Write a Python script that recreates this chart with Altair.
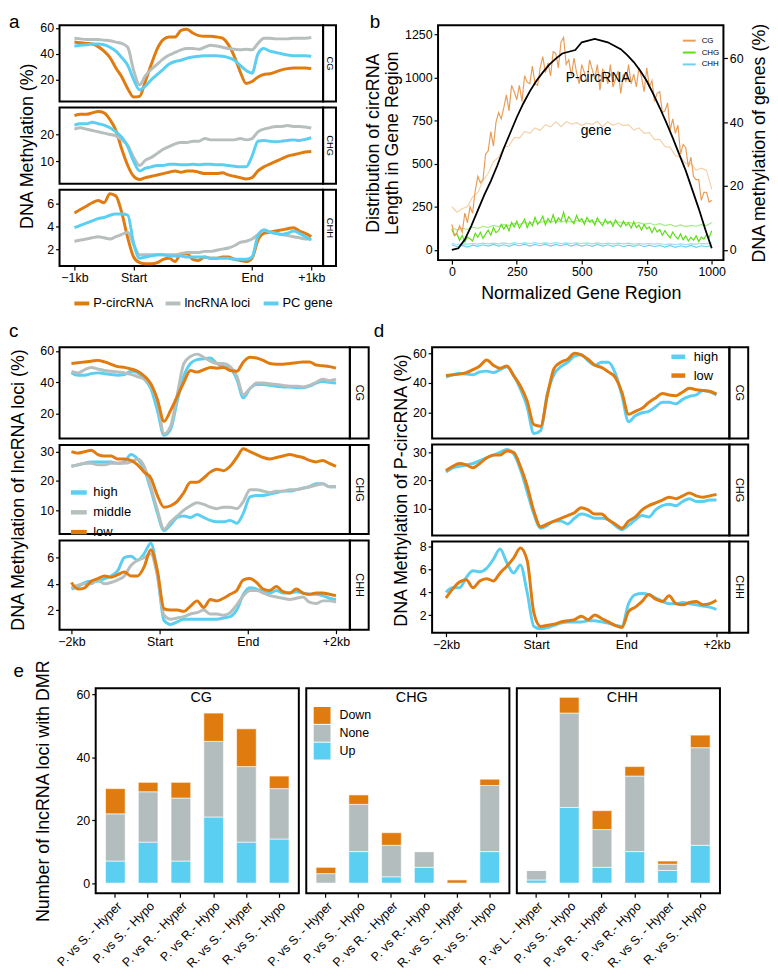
import altair as alt
import pandas as pd

FONT = "Liberation Sans"
ORANGE = "#E07B10"
GRAY = "#B7BEBE"
CYAN = "#5BCFF1"
BAR_GRAY = "#B3BDBD"

# ---------------- panel a ----------------
A_X = [i * 2.5 for i in range(41)]
A_XTICKS = [0, 25, 75, 100]
A_XLABELS = ["−1kb", "Start", "End", "+1kb"]
A_NAMES = ["P-circRNA", "lncRNA loci", "PC gene"]
A_CG_P = [49, 48.5, 48, 47.5, 45.5, 42, 37, 29, 22, 13, 6.5, 7, 19, 32, 44, 51, 53, 53, 58, 59, 56, 54, 53.5, 53.5, 53, 52, 47, 38, 26, 17, 18.5, 22, 24, 24.5, 26, 27.5, 28.5, 29, 29, 29, 28.5]
A_CG_L = [52, 51.5, 51, 51, 51, 50.5, 50, 49, 48, 45, 27, 16, 23, 28, 32, 36, 39, 41, 43, 44, 44, 43.5, 45, 46.5, 46, 45, 44, 43.5, 43, 43.5, 43, 48, 52, 52, 51.5, 51.5, 51.5, 52, 52, 52, 52.5]
A_CG_C = [46, 46.5, 47, 47.5, 47.5, 47, 45, 42, 37, 31, 20, 12, 15, 20, 24, 28, 32, 34, 35, 36.5, 37.5, 38, 38.5, 38.5, 38.5, 38, 37, 35, 31, 27, 25, 40, 44, 42, 41, 40, 39, 38.5, 38.5, 38.5, 38]
A_CHG_P = [27, 27.5, 27.5, 28, 28.5, 28, 25.5, 21.5, 14.5, 8.5, 4.5, 3.3, 4, 4.5, 5, 5.5, 6, 6.5, 6, 6.5, 6.5, 6, 5.5, 5.5, 5.5, 5.8, 5, 4.5, 4, 3.5, 4, 6.5, 8, 9, 10, 11, 12, 12.5, 13, 13.5, 13.7]
A_CHG_L = [22, 22.5, 22, 21.5, 21, 20.5, 20, 19.5, 18, 16, 11.5, 8.5, 10.5, 11.5, 13, 14.5, 15.5, 16.5, 17, 17, 17.5, 17.5, 18.5, 18, 18, 18, 18, 18, 18.5, 18, 18.5, 21, 22, 22.5, 23, 23, 23.3, 23, 23, 22.8, 22.4]
A_CHG_C = [23.5, 24, 24, 24.5, 24, 23.5, 22.5, 21, 19, 15.5, 10, 6.5, 7.5, 8, 8.5, 8.5, 9, 9, 8.8, 8.8, 9, 8.8, 9, 9, 8.8, 8.8, 8.5, 8.2, 8, 8, 12, 17.5, 17.8, 17.5, 17.3, 17.5, 17.8, 18, 17.8, 18.2, 18.8]
A_CHH_P = [5.2, 5.5, 5.8, 6.1, 6.3, 6.1, 6.9, 6.7, 5.2, 3.0, 1.3, 0.8, 0.7, 0.7, 0.8, 1.1, 1.2, 0.9, 1.6, 1.6, 1.1, 1.0, 1.3, 1.2, 1.2, 1.3, 1.3, 1.1, 1.0, 0.9, 1.2, 2.8, 3.4, 3.5, 3.6, 3.7, 3.8, 3.9, 3.6, 3.4, 3.1]
A_CHH_L = [2.7, 2.8, 2.9, 3.0, 3.1, 3.0, 2.9, 3.1, 3.3, 3.5, 2.4, 1.5, 1.5, 1.5, 1.5, 1.5, 1.5, 1.5, 1.6, 1.7, 1.7, 1.7, 1.8, 1.8, 1.9, 2.0, 2.1, 2.3, 2.6, 2.7, 2.9, 3.3, 3.7, 3.5, 3.4, 3.3, 3.2, 3.1, 3.0, 2.9, 2.9]
A_CHH_C = [3.9, 4.1, 4.3, 4.5, 4.7, 4.8, 5.0, 5.1, 5.1, 5.0, 2.5, 1.2, 1.3, 1.4, 1.5, 1.5, 1.4, 1.4, 1.4, 1.3, 1.3, 1.3, 1.3, 1.2, 1.2, 1.2, 1.2, 1.1, 1.1, 1.1, 1.3, 3.2, 3.7, 3.5, 3.4, 3.3, 3.4, 3.6, 3.4, 3.1, 2.8]

# ---------------- panel b ----------------
B_X10 = list(range(0, 1001, 10))
B_X20 = list(range(0, 1001, 20))
B_X25 = list(range(0, 1001, 25))
B_XTICKS = [0, 250, 500, 750, 1000]
B_NAMES = ["CG", "CHG", "CHH", "CG gene", "CHG gene", "CHH gene"]
B_COLORS = ["#E99E58", "#5FDC18", "#6FD0EE", "#F4D2AC", "#A6EC86", "#9BDDF2"]
B_CG_CIRC = [8, 4.5, 5.5, 7.5, 5.5, 11.5, 8.5, 13.5, 11.5, 18.5,
             23, 21, 22, 30, 31, 37, 32.5, 40, 43, 41,
             44.5, 48.5, 43.5, 51.5, 49.5, 47, 51.5, 46.5, 54.5, 52.5,
             52, 57.5, 52, 51.5, 57, 60.5, 55.5, 58.5, 54.5, 62,
             61.5, 57, 65, 66.5, 58, 59.5, 54.5, 60, 55.5, 52,
             58, 55.5, 52.5, 59.5, 56.5, 53.5, 58, 50, 56.5, 55.5,
             52, 58, 51, 53.5, 56, 49, 55, 52.5, 58, 52,
             55, 51, 57, 54, 49.5, 57, 51, 53, 46.5, 49,
             49.5, 43, 43.5, 46, 37.5, 41, 36.5, 39, 30, 33,
             32, 26, 29, 23, 22, 22, 15.5, 18, 18, 15,
             15.5]
B_CG_GENE = [13.5, 11.8, 12.9, 13.6, 16.6, 18.0, 21.7, 24.0, 27.6, 29.0,
             32.2, 32.5, 35.2, 35.0, 37.1, 36.5, 38.2, 37.4, 39.2, 38.5,
             40.1, 38.6, 40.2, 39.4, 39.8, 38.9, 39.7, 39.3, 40.2, 38.6,
             40.1, 39.0, 39.7, 38.9, 39.2, 37.5, 38.2, 36.5, 36.7, 34.5,
             34.6, 32.4, 32.1, 29.5, 29.1, 27.0, 27.1, 25.0, 25.6, 24.9, 19]
B_CHG_CIRC = [6.5, 4.5, 5.0, 3.0, 4.5, 2.5, 4.0, 3.5, 2.8, 5.2,
              4.0, 5.5, 3.6, 5.0, 6.2, 4.6, 7.0, 5.4, 6.0, 8.0,
              6.5, 7.8, 6.0, 8.6, 7.2, 9.0, 6.8, 8.2, 9.6, 7.0,
              8.8, 7.5, 10.2, 8.0, 9.0, 10.6, 7.8, 9.8, 8.6, 11.0,
              8.4, 10.0, 9.0, 11.8, 8.6, 10.4, 9.2, 8.2, 10.8, 9.0,
              9.8, 8.0, 10.2, 8.8, 9.4, 7.8, 10.0, 8.6, 7.6, 9.6,
              8.2, 9.0, 7.4, 9.4, 8.0, 7.2, 9.0, 7.6, 8.4, 6.8,
              8.8, 7.0, 7.8, 6.2, 8.0, 6.6, 7.2, 5.4, 7.0, 5.6,
              6.4, 4.6, 6.0, 4.8, 3.8, 5.6, 4.2, 3.4, 5.0, 3.2,
              4.4, 2.8, 4.0, 3.0, 4.4, 2.6, 4.0, 3.4, 4.8, 3.8,
              6.0]
B_CHG_GENE = [7.0, 6.2, 6.8, 6.4, 7.1, 6.7, 7.4, 7.0, 7.7, 7.3,
              8.0, 7.6, 8.3, 7.9, 8.6, 8.2, 8.9, 8.5, 9.1, 8.6,
              9.3, 8.7, 9.2, 8.7, 9.2, 8.8, 9.1, 8.6, 9.0, 8.5,
              8.9, 8.4, 8.8, 8.3, 8.7, 8.2, 8.6, 8.0, 8.4, 7.8,
              8.2, 7.6, 8.0, 7.4, 7.8, 7.3, 7.7, 7.4, 7.9, 7.6, 8.6]
B_CHH_CIRC = [1.6, 1.0, 1.4, 0.9, 1.5, 1.1, 1.6, 1.2, 1.7, 1.2,
              1.6, 1.1, 1.7, 1.3, 1.8, 1.2, 1.7, 1.3, 1.8, 1.2,
              1.7, 1.3, 1.8, 1.2, 1.7, 1.2, 1.6, 1.1, 1.7, 1.2,
              1.6, 1.1, 1.6, 1.0, 1.5, 1.1, 1.6, 1.0, 1.5, 1.0,
              1.4, 0.9, 1.4, 0.8, 1.3, 0.9, 1.4, 0.8, 1.3, 1.0, 1.5]
B_CHH_GENE = [2.0, 1.7, 1.9, 1.8, 2.0, 1.8, 2.1, 1.9, 2.1, 1.9,
              2.2, 1.9, 2.2, 2.0, 2.2, 2.0, 2.3, 2.0, 2.2, 2.0,
              2.3, 2.0, 2.2, 2.0, 2.2, 2.0, 2.2, 1.9, 2.2, 1.9,
              2.1, 1.9, 2.1, 1.9, 2.1, 1.8, 2.0, 1.8, 2.0, 1.8,
              2.0, 1.7, 1.9, 1.7, 1.9, 1.7, 1.9, 1.8, 2.0, 1.9, 2.3]
B_DIST = [0, 10, 60, 140, 230, 320, 400, 490, 590, 680,
          770, 850, 920, 980, 1030, 1075, 1110, 1140, 1150, 1160,
          1205, 1215, 1225, 1215, 1205, 1185, 1165, 1130, 1090, 1040,
          980, 905, 825, 740, 650, 555, 460, 350, 240, 120, 10]
B_LABELS = ["P-circRNA", "gene"]
B_LABEL_X = [563, 555]
B_LABEL_Y = [1000, 690]

# ---------------- panels c, d ----------------
CD_X = [i * 1.5 for i in range(41)]
CD_XTICKS = [0, 20, 40, 60]
CD_XLABELS = ["−2kb", "Start", "End", "+2kb"]
C_NAMES = ["high", "middle", "low"]
C_CG_H = [46, 44.5, 44.5, 45.5, 46, 45.5, 45, 44.5, 45, 47, 46, 42, 36, 22, 6, 10, 28, 44, 52, 54.5, 55, 55.5, 52, 50, 49, 42, 30, 36, 38.5, 38.5, 38, 37.5, 37, 37, 36.5, 36.5, 37.5, 39.5, 40.5, 40, 39.5]
C_CG_M = [47, 46, 48, 49.5, 48.5, 47.5, 47, 46.5, 46, 45, 43.5, 42, 38, 28, 7, 12, 32, 52, 56.5, 58, 56, 53.5, 52, 52, 50, 44, 32, 36, 39.5, 39.5, 39, 38.5, 38, 37.5, 37.5, 37, 38, 40, 42, 41, 42]
C_CG_L = [52, 52.5, 53, 53.5, 54, 53, 51.5, 50, 49.5, 48.5, 47, 44, 39, 29, 15, 22, 31, 40, 47.5, 46.5, 48, 49.5, 49, 49.5, 47.5, 47, 53, 56, 55.5, 54, 52, 51.5, 51.5, 52, 52.5, 53, 53, 51, 50.5, 50, 49]
C_CHG_H = [25, 25.5, 26, 26.5, 26.5, 26.5, 26.5, 26, 26.5, 29, 27.5, 24, 17, 9, 3, 5, 7.5, 8, 7.5, 8.5, 7.5, 6.5, 6, 6, 6.5, 5.5, 9, 14.5, 15, 15, 15.5, 16, 16.5, 16.5, 17, 17.5, 18, 19, 19, 18, 18]
C_CHG_M = [25, 25.5, 26, 26, 25.5, 25.5, 26, 26, 26, 26.5, 27.5, 25, 18, 10, 3.5, 6, 8, 10, 11.5, 12.5, 12, 11, 10.5, 11, 11, 10.5, 13, 17, 17, 16.5, 16, 16.5, 16.5, 17, 17, 17.5, 18, 18.5, 19, 18, 18]
C_CHG_L = [30, 29.5, 30, 30.5, 29, 28.5, 28.5, 27.5, 27.5, 27, 25.5, 23, 21, 15, 11, 11.5, 13, 16, 19.5, 19.5, 21, 23, 24, 23.5, 25, 28, 31, 30, 29, 28, 27.5, 28, 28.5, 29, 28.5, 28, 27, 26.5, 27, 26, 25]
C_CHH_H = [3.6, 3.8, 4.1, 4.2, 4.2, 4.4, 4.6, 5.0, 6.0, 6.1, 5.8, 6.3, 7.1, 4.8, 1.2, 0.9, 1.1, 1.3, 1.3, 1.3, 1.3, 1.3, 1.3, 1.4, 1.5, 2.0, 3.2, 3.7, 3.6, 3.4, 3.3, 3.5, 3.3, 3.3, 3.4, 3.3, 3.2, 3.2, 3.1, 2.9, 2.8]
C_CHH_M = [3.7, 3.9, 4.0, 4.0, 4.3, 4.0, 4.1, 4.3, 4.6, 5.4, 5.8, 6.0, 6.3, 4.6, 1.6, 1.3, 1.4, 1.5, 1.7, 1.8, 2.0, 1.7, 1.7, 1.6, 1.8, 2.4, 3.1, 3.5, 3.5, 3.3, 3.1, 3.0, 2.9, 2.8, 2.9, 3.0, 2.6, 2.5, 2.7, 2.7, 2.6]
C_CHH_L = [4.1, 3.6, 3.7, 4.2, 4.4, 4.6, 4.5, 4.7, 4.9, 4.6, 4.6, 5.3, 6.6, 5.0, 2.1, 2.0, 2.0, 1.9, 2.3, 2.7, 2.2, 2.8, 2.7, 2.9, 3.2, 3.5, 4.3, 4.4, 4.1, 3.6, 3.5, 3.8, 3.4, 3.3, 3.6, 3.3, 3.2, 3.3, 3.3, 3.2, 3.1]
D_NAMES = ["high", "low"]
D_CG_H = [44, 45.5, 46.5, 46, 45.5, 47.5, 48, 47, 49, 51, 45, 36, 24, 6, 8, 33, 46, 51, 54, 58, 59, 55, 52, 54, 54, 47, 32, 14, 18, 20, 21, 24, 27, 27, 26, 29, 31, 32, 35, 34, 32]
D_CG_L = [45, 45.5, 46, 47, 49, 51.5, 55.5, 52, 50, 51.5, 45, 38, 28, 12, 11, 32, 50, 54, 56, 60, 59, 56, 52, 50.5, 47.5, 44, 34, 19, 21, 23, 27, 30, 33, 32, 31.5, 34, 36.5, 35.5, 35, 34.5, 32.5]
D_CHG_H = [23, 24.5, 25, 25.5, 26, 27, 28, 29, 30, 31, 29.5, 24, 16, 8, 3, 4, 5.5, 5.5, 4.5, 6.5, 8, 7.5, 6.5, 6.5, 6, 4, 2.5, 4, 6, 7.5, 7, 9.5, 11, 11.5, 11, 12.5, 13.5, 12.5, 12.5, 13, 13]
D_CHG_L = [23.5, 25, 26, 25.5, 24.5, 26, 28, 29, 29, 30.5, 30, 25, 18, 9, 3.5, 4.5, 5.5, 6.5, 7.5, 8.5, 10.3, 9.5, 8, 8, 6, 4.5, 3, 5.5, 7, 9.5, 11, 12, 13, 14, 13.5, 14.5, 15.5, 14.5, 14, 14.5, 15]
D_CHH_H = [4.0, 4.4, 4.4, 5.3, 5.9, 5.8, 6.1, 6.9, 7.8, 6.6, 5.7, 6.4, 4.0, 1.0, 0.8, 0.9, 1.1, 1.3, 1.4, 1.4, 1.4, 1.5, 1.5, 1.4, 1.3, 1.1, 1.0, 3.0, 3.8, 3.9, 3.8, 3.5, 3.2, 3.0, 3.0, 3.1, 3.0, 2.9, 2.8, 2.7, 2.5]
D_CHH_L = [3.5, 4.3, 4.9, 5.1, 4.4, 5.0, 5.2, 5.0, 5.7, 6.3, 7.0, 7.9, 6.8, 2.2, 1.0, 1.1, 1.2, 1.4, 1.5, 1.6, 1.9, 1.6, 2.0, 1.7, 1.4, 1.1, 0.9, 2.3, 2.7, 3.2, 3.8, 3.4, 3.2, 3.7, 3.0, 2.9, 3.1, 3.2, 2.9, 3.0, 3.3]

# ---------------- panel e ----------------
E_CATS_CG = ["P. vs S. - Hyper", "P. vs S. - Hypo", "P. vs R. - Hyper", "P. vs R.- Hypo", "R. vs S. - Hyper", "R. vs S. - Hypo"]
E_CATS_CHG = ["P. vs S. - Hyper", "P. vs S. - Hypo", "P. vs R. - Hyper", "P. vs R.- Hypo", "R. vs S. - Hyper", "R. vs S. - Hypo"]
E_CATS_CHH = ["P. vs L. - Hyper", "P. vs S. - Hypo", "P. vs R. - Hyper", "P. vs R.- Hypo", "R. vs S. - Hyper", "R. vs S. - Hypo"]
E_TYPES = ["Down", "None", "Up"]
E_CG_UP = [7, 13, 7, 21, 13, 14]
E_CG_NONE = [15, 16, 20, 24, 24, 16]
E_CG_DOWN = [8, 3, 5, 9, 12, 4]
E_CHG_UP = [0, 10, 2, 5, 0, 10]
E_CHG_NONE = [3, 15, 10, 5, 0, 21]
E_CHG_DOWN = [2, 3, 4, 0, 1, 2]
E_CHH_UP = [1, 24, 5, 10, 4, 12]
E_CHH_NONE = [3, 30, 12, 24, 2, 31]
E_CHH_DOWN = [0, 5, 6, 3, 1, 4]


def long_df(xs, series):
    rows = []
    for name, vals in series:
        for x, v in zip(xs, vals):
            rows.append({"x": x, "v": v, "s": name})
    return pd.DataFrame(rows)


def label_expr(values, labels):
    expr = "''"
    for v, l in zip(reversed(values), reversed(labels)):
        expr = f"datum.value == {v} ? '{l}' : ({expr})"
    return expr


def spacer(w, h):
    return alt.Chart(pd.DataFrame({"t": [""]})).mark_text().encode(text="t:N").properties(
        width=w, height=h, view=alt.ViewBackground(stroke="transparent"))


def strip(label, w, h, fs):
    return alt.Chart(pd.DataFrame({"t": [label]})).mark_text(
        angle=90, fontSize=fs, font=FONT, color="black").encode(
        text="t:N", x=alt.value(w / 2), y=alt.value(h / 2)).properties(width=w, height=h)


def letter(ch, x, y):
    return alt.Chart(pd.DataFrame({"t": [ch]})).mark_text(
        align="left", baseline="alphabetic", fontSize=19, font=FONT, color="black").encode(
        text="t:N", x=alt.value(x), y=alt.value(y))


def ind(ch):
    return ch.resolve_scale(color="independent").resolve_legend(color="independent")


def profile_row(xs, series, names, colors, xdom, ydom, yticks, w, h, strip_label, strip_w, strip_fs,
                xticks=None, xlabels=None, ytitle=None, ytitle_pad=3, legend=None, extras=()):
    df = long_df(xs, series)
    if xticks is None:
        xaxis = None
    else:
        xaxis = alt.Axis(values=xticks, labelExpr=label_expr(xticks, xlabels), title=None)
    if ytitle:
        yaxis = alt.Axis(values=yticks, title=ytitle, titlePadding=ytitle_pad)
    else:
        yaxis = alt.Axis(values=yticks, title=None)
    lines = alt.Chart(df).mark_line(strokeWidth=3, clip=True, interpolate="monotone").encode(
        x=alt.X("x:Q", scale=alt.Scale(domain=xdom, nice=False, zero=False), axis=xaxis),
        y=alt.Y("v:Q", scale=alt.Scale(domain=ydom, nice=False, zero=False), axis=yaxis),
        color=alt.Color("s:N", scale=alt.Scale(domain=names, range=colors), legend=legend),
    )
    if extras:
        main = alt.layer(lines, *extras).properties(width=w, height=h)
    else:
        main = lines.properties(width=w, height=h)
    return [main, strip(strip_label, strip_w, h, strip_fs)]


def grid(rows, row_gap):
    units = []
    for r in rows:
        units.extend(r)
    return ind(alt.concat(*units, columns=2, spacing=alt.RowColnumber(row=row_gap, column=0), bounds="flush"))


# ---------- panel a ----------
A_COLORS = [ORANGE, GRAY, CYAN]
A_XDOM = [-6.3, 105]
a_legend = alt.Legend(orient="none", legendX=13, legendY=105, direction="horizontal", title=None,
                      symbolType="stroke", symbolStrokeWidth=4, symbolSize=225, labelFontSize=13,
                      labelOffset=2, columnPadding=4, padding=0)
a_cg = profile_row(A_X, [("P-circRNA", A_CG_P), ("lncRNA loci", A_CG_L), ("PC gene", A_CG_C)],
                   A_NAMES, A_COLORS, A_XDOM, [3, 62], [20, 40, 60], 266, 77, "CG", 13, 9.5,
                   extras=[letter("a", -51, 3)])
a_chg = profile_row(A_X, [("P-circRNA", A_CHG_P), ("lncRNA loci", A_CHG_L), ("PC gene", A_CHG_C)],
                    A_NAMES, A_COLORS, A_XDOM, [1.7, 30], [10, 20], 266, 77, "CHG", 13, 9.5,
                    ytitle="DNA Methylation (%)", ytitle_pad=3)
a_chh = profile_row(A_X, [("P-circRNA", A_CHH_P), ("lncRNA loci", A_CHH_L), ("PC gene", A_CHH_C)],
                    A_NAMES, A_COLORS, A_XDOM, [0.5, 7.25], [2, 4, 6], 266, 77, "CHH", 13, 9.5,
                    xticks=A_XTICKS, xlabels=A_XLABELS, legend=a_legend)
panel_a = grid([a_cg, a_chg, a_chh], 6)

# ---------- panel b ----------
b_meth_df = pd.concat([
    long_df(B_X20, [("CG gene", B_CG_GENE), ("CHG gene", B_CHG_GENE), ("CHH gene", B_CHH_GENE)]),
    long_df(B_X20, [("CHH", B_CHH_CIRC)]),
    long_df(B_X10, [("CHG", B_CHG_CIRC), ("CG", B_CG_CIRC)]),
], ignore_index=True)
b_dist_df = pd.DataFrame({"x": B_X25, "v": B_DIST})
b_lab_df = pd.DataFrame({"x": B_LABEL_X, "v": B_LABEL_Y, "t": B_LABELS})
bx_scale = alt.Scale(domain=[-53, 1045], nice=False, zero=False)
bx_axis = alt.Axis(values=B_XTICKS, format="d", title="Normalized Gene Region", titlePadding=6)
bl_scale = alt.Scale(domain=[-59, 1303.5], nice=False, zero=False)
b_legend = alt.Legend(values=["CG", "CHG", "CHH"], orient="none", legendX=246, legendY=8, title=None,
                      symbolType="stroke", symbolSize=169, symbolStrokeWidth=2, labelFontSize=8,
                      labelOffset=5, rowPadding=-1, padding=0)
b_meth = alt.Chart(b_meth_df).mark_line(strokeWidth=1.2, clip=True).encode(
    x=alt.X("x:Q", scale=bx_scale, axis=bx_axis),
    y=alt.Y("v:Q", scale=alt.Scale(domain=[-3.2, 70.3], nice=False, zero=False),
            axis=alt.Axis(orient="right", values=[0, 20, 40, 60], title="DNA methylation of genes (%)",
                          titleAngle=270, titleBaseline="top", titlePadding=8)),
    color=alt.Color("s:N", scale=alt.Scale(domain=B_NAMES, range=B_COLORS), legend=b_legend),
)
b_dist = alt.Chart(b_dist_df).mark_line(strokeWidth=1.8, color="black", clip=True).encode(
    x=alt.X("x:Q", scale=bx_scale, axis=bx_axis),
    y=alt.Y("v:Q", scale=bl_scale,
            axis=alt.Axis(orient="left", values=[0, 250, 500, 750, 1000, 1250], format="d",
                          title=["Distribution of circRNA", "Length  in Gene Region"],
                          titlePadding=3, titleLineHeight=19)),
)
b_text = alt.Chart(b_lab_df).mark_text(fontSize=14, font=FONT, color="black").encode(
    x=alt.X("x:Q", scale=bx_scale, axis=bx_axis),
    y=alt.Y("v:Q", scale=bl_scale, axis=None),
    text="t:N",
)
panel_b = alt.layer(b_meth, b_dist, b_text, letter("b", -69, 3)).resolve_scale(
    y="independent", color="independent").resolve_legend(color="independent").properties(
    width=288, height=237)

row1 = ind(alt.hconcat(panel_a, panel_b, spacing=27))

# ---------- panel c ----------
C_COLORS = [CYAN, GRAY, ORANGE]
C_XDOM = [-2.7, 63.15]
c_legend = alt.Legend(orient="none", legendX=9, legendY=37.5, title=None, symbolType="stroke",
                      symbolStrokeWidth=4.5, symbolSize=256, labelFontSize=13, labelOffset=4,
                      rowPadding=-5, padding=0)
c_cg = profile_row(CD_X, [("high", C_CG_H), ("middle", C_CG_M), ("low", C_CG_L)], C_NAMES, C_COLORS,
                   C_XDOM, [4, 62.35], [20, 40, 60], 293, 92, "CG", 19, 11, extras=[letter("c", -51, -10)])
c_chg = profile_row(CD_X, [("high", C_CHG_H), ("middle", C_CHG_M), ("low", C_CHG_L)], C_NAMES, C_COLORS,
                    C_XDOM, [1.8, 32.3], [10, 20, 30], 293, 90, "CHG", 19, 11,
                    ytitle="DNA Methylation of lncRNA loci (%)", ytitle_pad=12, legend=c_legend)
c_chh = profile_row(CD_X, [("high", C_CHH_H), ("middle", C_CHH_M), ("low", C_CHH_L)], C_NAMES, C_COLORS,
                    C_XDOM, [0.5, 7.3], [2, 4, 6], 293, 90, "CHH", 19, 11,
                    xticks=CD_XTICKS, xlabels=CD_XLABELS)
panel_c = grid([c_cg, c_chg, c_chh], 6.5)

# ---------- panel d ----------
D_COLORS = [CYAN, ORANGE]
D_XDOM = [-3.08, 62.86]
d_legend = alt.Legend(orient="none", legendX=239, legendY=0, title=None, symbolType="stroke",
                      symbolStrokeWidth=4.5, symbolSize=196, labelFontSize=13, labelOffset=6,
                      rowPadding=-5.5, padding=0)
d_cg = profile_row(CD_X, [("high", D_CG_H), ("low", D_CG_L)], D_NAMES, D_COLORS,
                   D_XDOM, [2.7, 64], [20, 40, 60], 300, 92, "CG", 19, 11, legend=d_legend,
                   extras=[letter("d", -59, -10)])
d_chg = profile_row(CD_X, [("high", D_CHG_H), ("low", D_CHG_L)], D_NAMES, D_COLORS,
                    D_XDOM, [0.35, 32.8], [10, 20, 30], 300, 92, "CHG", 19, 11,
                    ytitle="DNA Methylation of P-circRNA (%)", ytitle_pad=2)
d_chh = profile_row(CD_X, [("high", D_CHH_H), ("low", D_CHH_L)], D_NAMES, D_COLORS,
                    D_XDOM, [0.45, 8.46], [2, 4, 6, 8], 300, 92, "CHH", 19, 11,
                    xticks=CD_XTICKS, xlabels=CD_XLABELS)
panel_d = grid([d_cg, d_chg, d_chh], 6)

row2 = ind(alt.hconcat(panel_c, panel_d, spacing=3))


# ---------- panel e ----------
def bar_panel(cats, up, none, down, title, w, h, show_y, legend=None, extras=()):
    rows = []
    for c, u, n, d in zip(cats, up, none, down):
        rows.append({"cat": c, "type": "Up", "v": u, "ord": 0})
        rows.append({"cat": c, "type": "None", "v": n, "ord": 1})
        rows.append({"cat": c, "type": "Down", "v": d, "ord": 2})
    df = pd.DataFrame(rows)
    if show_y:
        yaxis = alt.Axis(values=[0, 20, 40, 60], title="Number of lncRNA loci with DMR", titlePadding=24)
    else:
        yaxis = None
    bars = alt.Chart(df).mark_bar(stroke="white", strokeWidth=0.6).encode(
        x=alt.X("cat:N", sort=cats, scale=alt.Scale(paddingInner=0.4, paddingOuter=0.3),
                axis=alt.Axis(labelAngle=315, title=None, labelFontSize=12.5)),
        y=alt.Y("v:Q", stack="zero", scale=alt.Scale(domain=[-3.25, 61.9], nice=False, zero=False), axis=yaxis),
        color=alt.Color("type:N", scale=alt.Scale(domain=E_TYPES, range=[ORANGE, BAR_GRAY, CYAN]), legend=legend),
        order=alt.Order("ord:Q"),
    )
    ttl = alt.Chart(pd.DataFrame({"t": [title]})).mark_text(fontSize=14.5, font=FONT, color="black").encode(
        text="t:N", x=alt.value(w / 2 + 4), y=alt.value(10))
    return alt.layer(bars, ttl, *extras).properties(width=w, height=h)


e_legend = alt.Legend(orient="none", legendX=7.5, legendY=19, title=None, symbolType="square",
                      symbolSize=289, symbolStrokeWidth=0, labelFontSize=12.5, labelOffset=9,
                      rowPadding=1, padding=0)
e_cg = bar_panel(E_CATS_CG, E_CG_UP, E_CG_NONE, E_CG_DOWN, "CG", 205, 207, True,
                 extras=[letter("e", -83, -11)])
e_chg = bar_panel(E_CATS_CHG, E_CHG_UP, E_CHG_NONE, E_CHG_DOWN, "CHG", 205, 207, False, legend=e_legend)
e_chh = bar_panel(E_CATS_CHH, E_CHH_UP, E_CHH_NONE, E_CHH_DOWN, "CHH", 205, 207, False)
row3 = ind(alt.hconcat(spacer(28.5, 1), e_cg, e_chg, e_chh, spacing=7.5, bounds="flush"))

top12 = ind(alt.vconcat(row1, row2, spacing=9))
chart = ind(alt.vconcat(top12, row3, spacing=5)).properties(
    padding={"left": 0, "top": 0, "right": 0, "bottom": 0}, background="white"
).configure_view(stroke="black", strokeWidth=2).configure_axis(
    labelFont=FONT, titleFont=FONT, labelFontSize=12.5, titleFontSize=18, titleFontWeight="normal",
    labelColor="black", titleColor="black", tickColor="black", tickSize=4, tickWidth=1.2,
    domain=False, grid=False, labelPadding=2, labelFlush=False, labelOverlap=False, labelBound=False
).configure_legend(labelFont=FONT, labelColor="black").configure_text(font=FONT)

chart.save("out.html", embed_options={"renderer": "svg", "actions": False})
